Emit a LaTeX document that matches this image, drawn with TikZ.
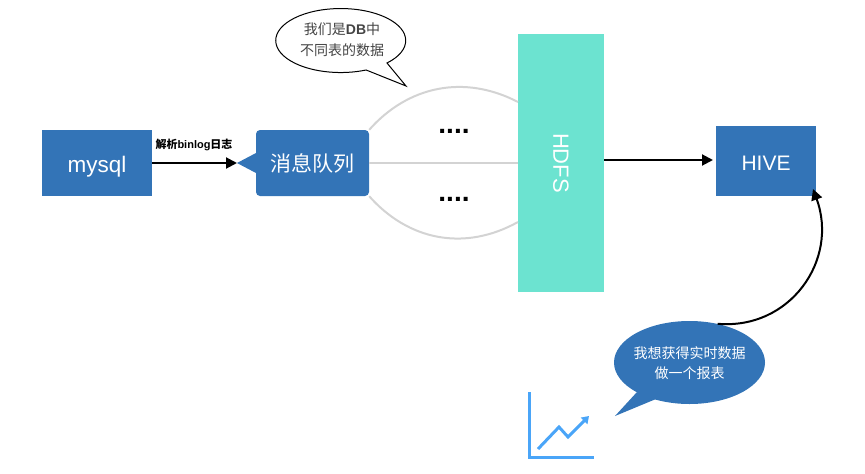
\documentclass[tikz,border=0pt]{standalone}
\usepackage{fontspec}
\usepackage{xcolor}
\setmainfont{Liberation Sans}
\newfontfamily\cjk{Noto Sans CJK SC}
\usetikzlibrary{arrows.meta,shapes.geometric}

\definecolor{boxblue}{HTML}{3374B7}
\definecolor{hdfsgreen}{HTML}{6CE3D0}
\definecolor{linegrey}{HTML}{D3D3D3}
\definecolor{chartblue}{HTML}{4AA5F8}
\definecolor{talkgrey}{HTML}{444444}

\tikzset{
	bluebox/.style={fill=boxblue, text=white, inner sep=0, font=\fontsize{21}{24}\selectfont},
	lowtext/.style={text height=18pt, text depth=0pt},
	flow/.style={line width=2, -{Triangle[length=11pt,width=11pt]}},
	branch/.style={linegrey, line width=2},
	talk/.style={inner sep=0, align=center, font=\fontsize{14}{21}\selectfont},
	morerows/.style={inner sep=0, font=\fontsize{28}{30}\selectfont\bfseries},
}

\begin{document}
\begin{tikzpicture}[x=1pt, y=-1pt]

\useasboundingbox (0,0) rectangle (865,474);

\node[bluebox, lowtext, minimum width=110, minimum height=66] (mysql) at (97,163) {\fontsize{22.5}{24}\selectfont mysql};
\node[bluebox, minimum width=113, minimum height=66, rounded corners=4] (queue) at (312.5,163) {\cjk 消息队列};
\node[fill=hdfsgreen, text=white, inner sep=0, minimum width=86, minimum height=258, font=\fontsize{22}{24}\selectfont] (hdfs) at (561,163) {\rotatebox{-90}{HDFS}};
\node[bluebox, lowtext, minimum width=100, minimum height=70] (hive) at (766,161) {HIVE};

% pointer of the queue
\coordinate (queuetip) at (237,163);
\fill[boxblue] (queuetip)--(256,153)--(256,173)--cycle;

% mysql to queue
\draw[flow] (mysql.east)--(queuetip);
\node[inner sep=0, font=\fontsize{11}{12}\selectfont\bfseries] (parse) at (194,145) {{\cjk 解析}binlog{\cjk 日志}};

% queue to hdfs
\draw[branch] (queue.east)--(hdfs.west |- queue.east);
\coordinate (upperend) at (518,102);
\coordinate (lowerend) at (518,222);
\draw[branch] (queue.north east) .. controls (408,86) and (464,74) .. (upperend);
\draw[branch] (queue.south east) .. controls (408,240) and (464,252) .. (lowerend);
\node[morerows] (upperdots) at (454,131) {....};
\node[morerows] (lowerdots) at (454,199) {....};

% hdfs to hive
\coordinate (hivein) at (713,160);
\draw[flow] (hdfs.east |- hivein)--(hivein);

% speech of the tables
\draw[fill=white, line width=1] (387,63) arc[start angle=44.6, end angle=-293, x radius=65, y radius=32]--(406,86)--cycle;
\node[talk, text=talkgrey] (tables) at (342,40) {{\cjk 我们是}\textbf{DB}{\cjk 中}\\{\cjk 不同表的数据}};

% speech of the report
\node[ellipse, fill=boxblue, inner sep=0, minimum width=151, minimum height=83] (report) at (689.5,362.5) {};
\fill[boxblue] (637,392)--(615,416)--(656,399)--cycle;
\node[talk, text=white, font=\fontsize{14}{20}\selectfont] (wish) at (689.5,363) {\cjk 我想获得实时数据\\\cjk 做一个报表};

% report to hive
\coordinate (hiveback) at (813,189);
\draw[line width=2, -{Triangle[length=11pt,width=11pt]}] (report.54.5) .. controls (790,330) and (839,260) .. (hiveback);

% chart
\draw[chartblue, line width=3] (529,392)--(529,457)--(594,457);
\draw[chartblue, line width=3, -{Triangle[length=7pt,width=9pt]}] (538,449)--(559,427)--(568,437)--(589,416);

\end{tikzpicture}
\end{document}
